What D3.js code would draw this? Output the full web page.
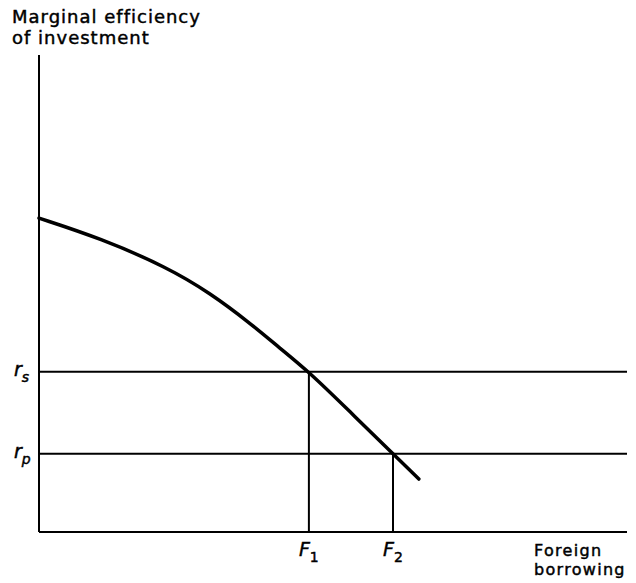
<!DOCTYPE html>
<html><head><meta charset="utf-8">
<script src="https://cdn.jsdelivr.net/npm/d3@7"></script>
<style>body{margin:0;background:#fff}svg{display:block}text{stroke:#000;stroke-width:0.45px}</style>
</head><body>
<script>
// Data (abstract units: x 0..100, y 0..100)
const curveX = [0, 10.4, 21.8, 29.1, 35.9, 41.0, 45.9, 52.9, 60.2, 64.6];
const curveY = [65.8, 61.6, 55.5, 50.1, 43.8, 38.5, 33.6, 25.2, 16.4, 11.1];
const rateNames = ["s", "p"];
const rateValues = [33.6, 16.4];
const borrowNames = ["1", "2"];
const borrowValues = [45.9, 60.2];

const W = 636, H = 583;
const svg = d3.select("body").append("svg").attr("width", W).attr("height", H);
const x = d3.scaleLinear().domain([0, 100]).range([39, 627]);
const y = d3.scaleLinear().domain([0, 100]).range([532, 55]);
const font = "'DejaVu Sans', sans-serif";

// axes
svg.append("line").attr("x1", x(0)).attr("x2", x(0)).attr("y1", y(100)).attr("y2", y(0))
  .attr("stroke", "#000").attr("stroke-width", 2);
svg.append("line").attr("x1", x(0)).attr("x2", x(100)).attr("y1", y(0)).attr("y2", y(0))
  .attr("stroke", "#000").attr("stroke-width", 2);

// horizontal rate lines
rateValues.forEach((v, i) => {
  svg.append("line").attr("x1", x(0)).attr("x2", x(100)).attr("y1", y(v)).attr("y2", y(v))
    .attr("stroke", "#000").attr("stroke-width", 2);
  const t = svg.append("text").attr("x", 14).attr("y", y(v) + 4)
    .attr("font-family", font).attr("font-style", "italic").attr("font-size", 19);
  t.append("tspan").text("r");
  t.append("tspan").attr("dy", 6).attr("font-size", 14).text(rateNames[i]);
});

// vertical borrowing lines
borrowValues.forEach((v, i) => {
  svg.append("line").attr("x1", x(v)).attr("x2", x(v)).attr("y1", y(rateValues[i])).attr("y2", y(0))
    .attr("stroke", "#000").attr("stroke-width", 2);
  const t = svg.append("text").attr("x", x(v) - 10).attr("y", 556)
    .attr("font-family", font).attr("font-size", 19);
  t.append("tspan").attr("font-style", "italic").text("F");
  t.append("tspan").attr("dy", 6).attr("font-size", 14).text(borrowNames[i]);
});

// MEI curve
const pts = curveX.map((d, i) => [d, curveY[i]]);
svg.append("path").datum(pts)
  .attr("d", d3.line().x(d => x(d[0])).y(d => y(d[1])).curve(d3.curveBasis))
  .attr("fill", "none").attr("stroke", "#000").attr("stroke-width", 3.5).attr("stroke-linecap", "round");

// axis titles
const title = svg.append("text").attr("font-family", font).attr("font-size", 18).attr("letter-spacing", 1.0);
title.append("tspan").attr("x", 12).attr("y", 22.5).text("Marginal efficiency");
title.append("tspan").attr("x", 12).attr("y", 43.5).text("of investment");
const xt = svg.append("text").attr("font-family", font).attr("font-size", 16).attr("letter-spacing", 1.3);
xt.append("tspan").attr("x", 534).attr("y", 555.5).text("Foreign");
xt.append("tspan").attr("x", 534).attr("y", 574.5).text("borrowing");
</script>
</body></html>
